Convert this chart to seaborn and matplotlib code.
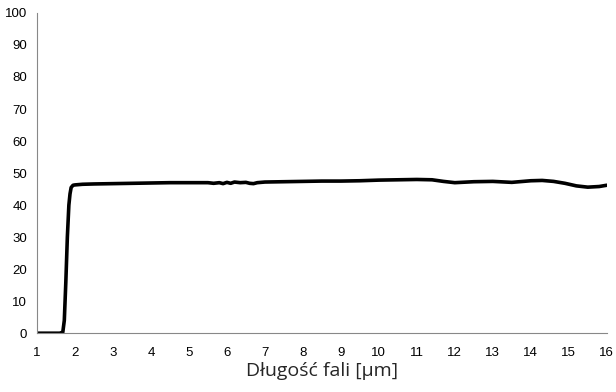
import matplotlib
matplotlib.use("Agg")
import matplotlib.pyplot as plt
import seaborn as sns
import pandas as pd

wavelength = [1.0, 1.3, 1.6, 1.68, 1.72, 1.76, 1.80, 1.84, 1.87, 1.90, 1.95, 2.0, 2.2, 2.5, 3.0, 3.5, 4.0, 4.5, 5.0, 5.5,
              5.65, 5.8, 5.9, 6.0, 6.1, 6.2, 6.35, 6.5, 6.6, 6.7, 6.8, 7.0, 7.5, 8.0, 8.5, 9.0, 9.5, 10.0, 10.5, 11.0,
              11.4, 11.7, 12.0, 12.5, 13.0, 13.5, 14.0, 14.3, 14.6, 14.9, 15.2, 15.5, 15.8, 16.0]
transmission = [0.0, 0.0, 0.0, 0.3, 4.0, 16.0, 30.0, 40.0, 43.5, 45.5, 46.2, 46.3, 46.5, 46.6, 46.7, 46.8, 46.9, 47.0, 47.0, 47.0,
                46.8, 47.0, 46.7, 47.1, 46.8, 47.2, 47.0, 47.1, 46.8, 46.7, 47.0, 47.2, 47.3, 47.4, 47.5, 47.5, 47.6, 47.8, 47.9, 48.0,
                47.9, 47.4, 47.0, 47.3, 47.4, 47.1, 47.6, 47.7, 47.4, 46.8, 46.0, 45.6, 45.8, 46.2]

df = pd.DataFrame({"x": wavelength, "y": transmission})

sns.set_style("white")
plt.rcParams['font.family'] = ['Liberation Sans', 'DejaVu Sans']

fig = plt.figure(figsize=(6.16, 3.92), dpi=100)
ax = fig.add_axes([0.06, 0.150, 0.925, 0.817])
sns.lineplot(data=df, x="x", y="y", ax=ax, color="black", linewidth=2.6, estimator=None, sort=False)

ax.set_xlim(1, 16)
ax.set_ylim(0, 100)
ax.set_xticks(range(1, 17))
ax.set_yticks(range(0, 101, 10))
ax.tick_params(axis='both', labelsize=9.5, colors='#888888', labelcolor='black', length=4, width=0.8, direction='out')
ax.tick_params(axis='x', pad=6)
ax.tick_params(axis='y', pad=3)
for s in ['top', 'right']:
    ax.spines[s].set_visible(False)
for s in ['left', 'bottom']:
    ax.spines[s].set_color('#888888')
    ax.spines[s].set_linewidth(0.8)
ax.set_ylabel("")
ax.set_xlabel("Długość fali [µm]", fontsize=14, family=['Open Sans', 'DejaVu Sans'], labelpad=2)

fig.savefig("out.png", dpi=100)
